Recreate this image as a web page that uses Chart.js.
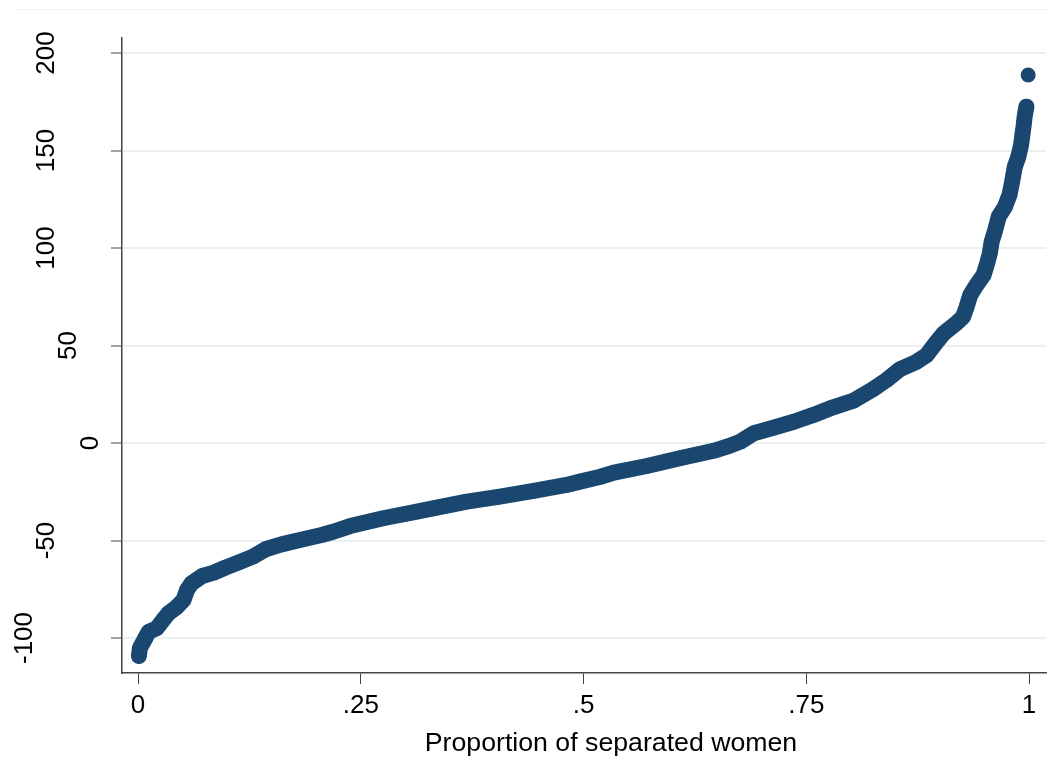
<!DOCTYPE html>
<html>
<head>
<meta charset="utf-8">
<script src="https://cdn.jsdelivr.net/npm/chart.js@4/dist/chart.umd.min.js"></script>
<style>
  body { margin: 0; background: #fff; }
</style>
</head>
<body>
<canvas id="quantile-chart" width="1062" height="774"></canvas>
<script>
// quantile values (proportion of sample, value)
const proportions = [
    0.001, 0.002, 0.008, 0.012, 0.021, 0.028, 0.034, 0.043, 0.051, 0.055,
    0.060, 0.072, 0.085, 0.098, 0.113, 0.129, 0.143, 0.161, 0.184, 0.206,
    0.219, 0.238, 0.275, 0.313, 0.331, 0.369, 0.406, 0.444, 0.481, 0.496,
    0.519, 0.534, 0.571, 0.608, 0.646, 0.661, 0.676, 0.691, 0.713, 0.736,
    0.758, 0.780, 0.803, 0.825, 0.840, 0.855, 0.874, 0.885, 0.895, 0.904,
    0.919, 0.926, 0.930, 0.934, 0.941, 0.949, 0.953, 0.956, 0.958, 0.962,
    0.966, 0.973, 0.978, 0.981, 0.984, 0.988, 0.991, 0.994, 0.995, 0.997,
    0.999
];
const values = [
    -109.2, -105.3, -100.2, -96.8, -95.0, -90.8, -87.4, -84.3, -80.5, -75.4,
    -72.0, -68.2, -66.5, -63.9, -61.2, -58.3, -54.5, -52.0, -49.5, -47.2,
    -45.5, -42.6, -38.6, -35.2, -33.5, -30.1, -27.5, -24.6, -21.5, -19.8,
    -17.3, -15.2, -11.8, -7.8, -4.0, -1.9, 0.7, 5.0, 7.8, 10.9,
    14.4, 18.3, 21.7, 27.6, 32.3, 37.8, 41.7, 45.1, 51.1, 56.2,
    61.7, 64.8, 69.9, 75.9, 81.0, 86.2, 92.2, 97.3, 103.2, 109.2,
    116.1, 121.2, 127.2, 134.0, 141.7, 146.8, 152.8, 163.1, 167.3, 172.5,
    188.7
];

const xTickValues = [0, 0.25, 0.5, 0.75, 1];
const xTickLabels = ['0', '.25', '.5', '.75', '1'];
const yTickValues = [-100, -50, 0, 50, 100, 150, 200];
const xTitle = 'Proportion of separated women';

const navy = 'rgb(26, 71, 111)';
const axisColor = '#444';
const gridColor = '#e9f0f2';
const fontFamily = '"Liberation Sans", Arial, sans-serif';

Chart.defaults.font.family = fontFamily;
Chart.defaults.color = '#000';

const points = proportions.map((p, i) => ({ x: p, y: values[i] }));

// rotated y labels and x title, Stata-like placement
const textLayer = {
    id: 'textLayer',
    afterDraw(chart) {
        const ctx = chart.ctx;
        const y = chart.scales.y;
        const area = chart.chartArea;
        ctx.save();
        ctx.fillStyle = '#000';
        ctx.textAlign = 'center';
        ctx.textBaseline = 'middle';
        ctx.font = '26px ' + fontFamily;
        yTickValues.forEach(v => {
            const label = String(v);
            const cx = area.left - 31 - 22.2 * (label.length - 1);
            ctx.save();
            ctx.translate(cx, y.getPixelForValue(v));
            ctx.rotate(-Math.PI / 2);
            ctx.fillText(label, 0, 0);
            ctx.restore();
        });
        ctx.font = '26.7px ' + fontFamily;
        ctx.fillText(xTitle, (area.left + area.right) / 2 + 27, 744);
        // faint outer frame line at the top
        ctx.strokeStyle = '#eef2f4';
        ctx.lineWidth = 1;
        ctx.beginPath();
        ctx.moveTo(17, 9.5);
        ctx.lineTo(1046, 9.5);
        ctx.stroke();
        ctx.restore();
    }
};

const chart = new Chart(document.getElementById('quantile-chart'), {
    type: 'line',
    data: {
        datasets: [{
            data: points,
            borderColor: navy,
            backgroundColor: navy,
            borderWidth: 16,
            borderCapStyle: 'round',
            borderJoinStyle: 'round',
            pointRadius: 7.5,
            pointBorderWidth: 0,
            pointBackgroundColor: navy,
            tension: 0,
            fill: false,
            segment: {
                borderColor: c => c.p1DataIndex === values.length - 1 ? 'rgba(0,0,0,0)' : navy
            }
        }]
    },
    options: {
        responsive: false,
        animation: false,
        layout: { padding: { left: 0, right: 16, top: 38, bottom: 0 } },
        plugins: {
            legend: { display: false },
            tooltip: { enabled: false }
        },
        scales: {
            x: {
                type: 'linear',
                min: -0.018,
                max: 1.019,
                afterBuildTicks: s => { s.ticks = xTickValues.map(v => ({ value: v })); },
                afterFit: s => { s.height = 101; },
                border: { display: true, color: axisColor, width: 1.5 },
                grid: {
                    display: true,
                    drawOnChartArea: false,
                    drawTicks: true,
                    tickLength: 11,
                    tickColor: axisColor,
                    tickWidth: 1
                },
                ticks: {
                    autoSkip: false,
                    maxRotation: 0,
                    padding: 6,
                    font: { size: 26 },
                    callback: (v, i) => xTickLabels[i]
                }
            },
            y: {
                type: 'linear',
                min: -117.95,
                max: 207.7,
                afterBuildTicks: s => { s.ticks = yTickValues.map(v => ({ value: v })); },
                afterFit: s => { s.width = 122; },
                border: { display: true, color: axisColor, width: 1.5 },
                grid: {
                    color: gridColor,
                    lineWidth: 2,
                    tickLength: 11,
                    tickColor: axisColor,
                    tickWidth: 1
                },
                ticks: { display: false }
            }
        }
    },
    plugins: [textLayer]
});
</script>
</body>
</html>
